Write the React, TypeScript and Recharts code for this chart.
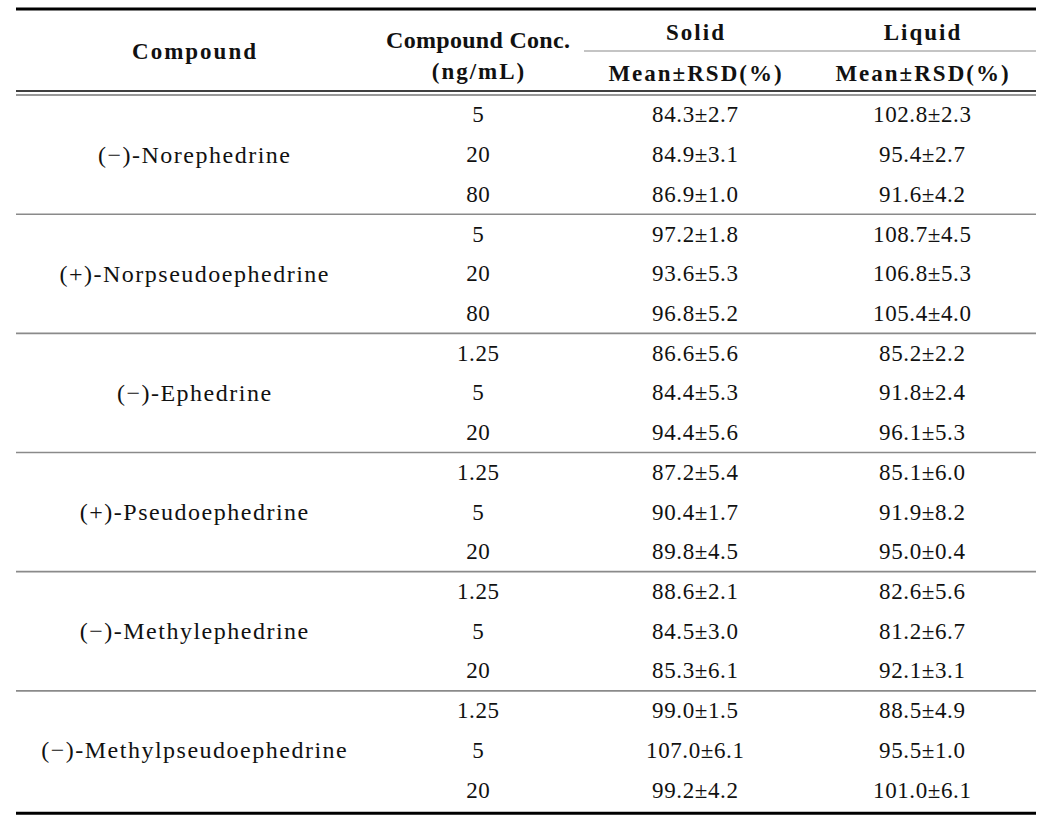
import { ReferenceLine, Scatter, ScatterChart, XAxis, YAxis } from 'recharts'

// table content
const compounds = [
  '(−)-Norephedrine',
  '(+)-Norpseudoephedrine',
  '(−)-Ephedrine',
  '(+)-Pseudoephedrine',
  '(−)-Methylephedrine',
  '(−)-Methylpseudoephedrine',
]
const concentrations = [
  ['5', '20', '80'],
  ['5', '20', '80'],
  ['1.25', '5', '20'],
  ['1.25', '5', '20'],
  ['1.25', '5', '20'],
  ['1.25', '5', '20'],
]
const solidMean = [84.3, 84.9, 86.9, 97.2, 93.6, 96.8, 86.6, 84.4, 94.4, 87.2, 90.4, 89.8, 88.6, 84.5, 85.3, 99.0, 107.0, 99.2]
const solidRsd = [2.7, 3.1, 1.0, 1.8, 5.3, 5.2, 5.6, 5.3, 5.6, 5.4, 1.7, 4.5, 2.1, 3.0, 6.1, 1.5, 6.1, 4.2]
const liquidMean = [102.8, 95.4, 91.6, 108.7, 106.8, 105.4, 85.2, 91.8, 96.1, 85.1, 91.9, 95.0, 82.6, 81.2, 92.1, 88.5, 95.5, 101.0]
const liquidRsd = [2.3, 2.7, 4.2, 4.5, 5.3, 4.0, 2.2, 2.4, 5.3, 6.0, 8.2, 0.4, 5.6, 6.7, 3.1, 4.9, 1.0, 6.1]
const headers = ['Compound', 'Compound Conc.', '(ng/mL)', 'Solid', 'Liquid', 'Mean±RSD(%)']

// layout (x in page pixels, y in row units)
const W = 1061
const H = 826
const colX = { compound: 194, conc: 478, solid: 695, liquid: 922 }
const tableLeft = 16
const tableRight = 1036
const yDomain: [number, number] = [-2.892, 17.903]
const SERIF = "'Liberation Serif', 'DejaVu Serif', serif"

const rowsPerGroup = 3
const nameCells = compounds.map((name, g) => ({ x: colX.compound, y: g * rowsPerGroup + 1, label: name }))
const concCells = concentrations.flat().map((c, i) => ({ x: colX.conc, y: i, label: c }))
const solidCells = solidMean.map((m, i) => ({ x: colX.solid, y: i, label: `${m.toFixed(1)}±${solidRsd[i].toFixed(1)}` }))
const liquidCells = liquidMean.map((m, i) => ({ x: colX.liquid, y: i, label: `${m.toFixed(1)}±${liquidRsd[i].toFixed(1)}` }))

const headerCells = [
  { x: colX.compound, y: -1.583, label: headers[0], size: 23, ls: 2 },
  { x: colX.conc, y: -1.885, label: headers[1], size: 24, ls: 0.3 },
  { x: colX.conc, y: -1.08, label: headers[2], size: 23, ls: 2 },
  { x: colX.solid, y: -2.086, label: headers[3], size: 23, ls: 2 },
  { x: colX.liquid, y: -2.086, label: headers[4], size: 23, ls: 2 },
  { x: colX.solid, y: -1.054, label: headers[5], size: 23, ls: 2 },
  { x: colX.liquid, y: -1.054, label: headers[5], size: 23, ls: 2 },
]

const separators = compounds.slice(0, -1).map((_, g) => (g + 1) * rowsPerGroup - 0.5)

const cellText = (size: number, spacing: number, bold = false) => (props: any) => {
  const { cx, cy, payload } = props
  const fs = payload.size ?? size
  const ls = payload.ls ?? spacing
  return (
    <text
      x={cx + ls / 2}
      y={cy}
      textAnchor="middle"
      dominantBaseline="central"
      fontFamily={SERIF}
      fontSize={fs}
      fontWeight={bold ? 700 : 400}
      letterSpacing={ls}
      fill="#111"
    >
      {payload.label}
    </text>
  )
}

const seg = (y: number, x1 = tableLeft, x2 = tableRight) => [
  { x: x1, y },
  { x: x2, y },
]

export default function App() {
  return (
    <div style={{ position: 'absolute', left: 0, top: 0, background: '#fff' }}>
      <ScatterChart width={W} height={H} margin={{ top: 0, right: 0, bottom: 0, left: 0 }}>
        <XAxis type="number" dataKey="x" domain={[0, W]} hide />
        <YAxis type="number" dataKey="y" domain={yDomain} reversed hide allowDataOverflow />

        <ReferenceLine segment={seg(-2.665)} stroke="#000" strokeWidth={3} ifOverflow="visible" />
        <ReferenceLine segment={seg(-1.608, 584)} stroke="#8a8a8a" strokeWidth={1.2} ifOverflow="visible" />
        <ReferenceLine segment={seg(-0.601)} stroke="#000" strokeWidth={1.5} ifOverflow="visible" />
        <ReferenceLine segment={seg(-0.5)} stroke="#999" strokeWidth={2} ifOverflow="visible" />
        {separators.map((y) => (
          <ReferenceLine key={y} segment={seg(y)} stroke="#8a8a8a" strokeWidth={1.6} ifOverflow="visible" />
        ))}
        <ReferenceLine segment={seg(17.58)} stroke="#000" strokeWidth={3} ifOverflow="visible" />

        <Scatter data={headerCells} shape={cellText(23, 2, true)} isAnimationActive={false} />
        <Scatter data={nameCells} shape={cellText(24, 1.5)} isAnimationActive={false} />
        <Scatter data={concCells} shape={cellText(23, 0.6)} isAnimationActive={false} />
        <Scatter data={solidCells} shape={cellText(23, 0.6)} isAnimationActive={false} />
        <Scatter data={liquidCells} shape={cellText(23, 0.6)} isAnimationActive={false} />
      </ScatterChart>
    </div>
  )
}
